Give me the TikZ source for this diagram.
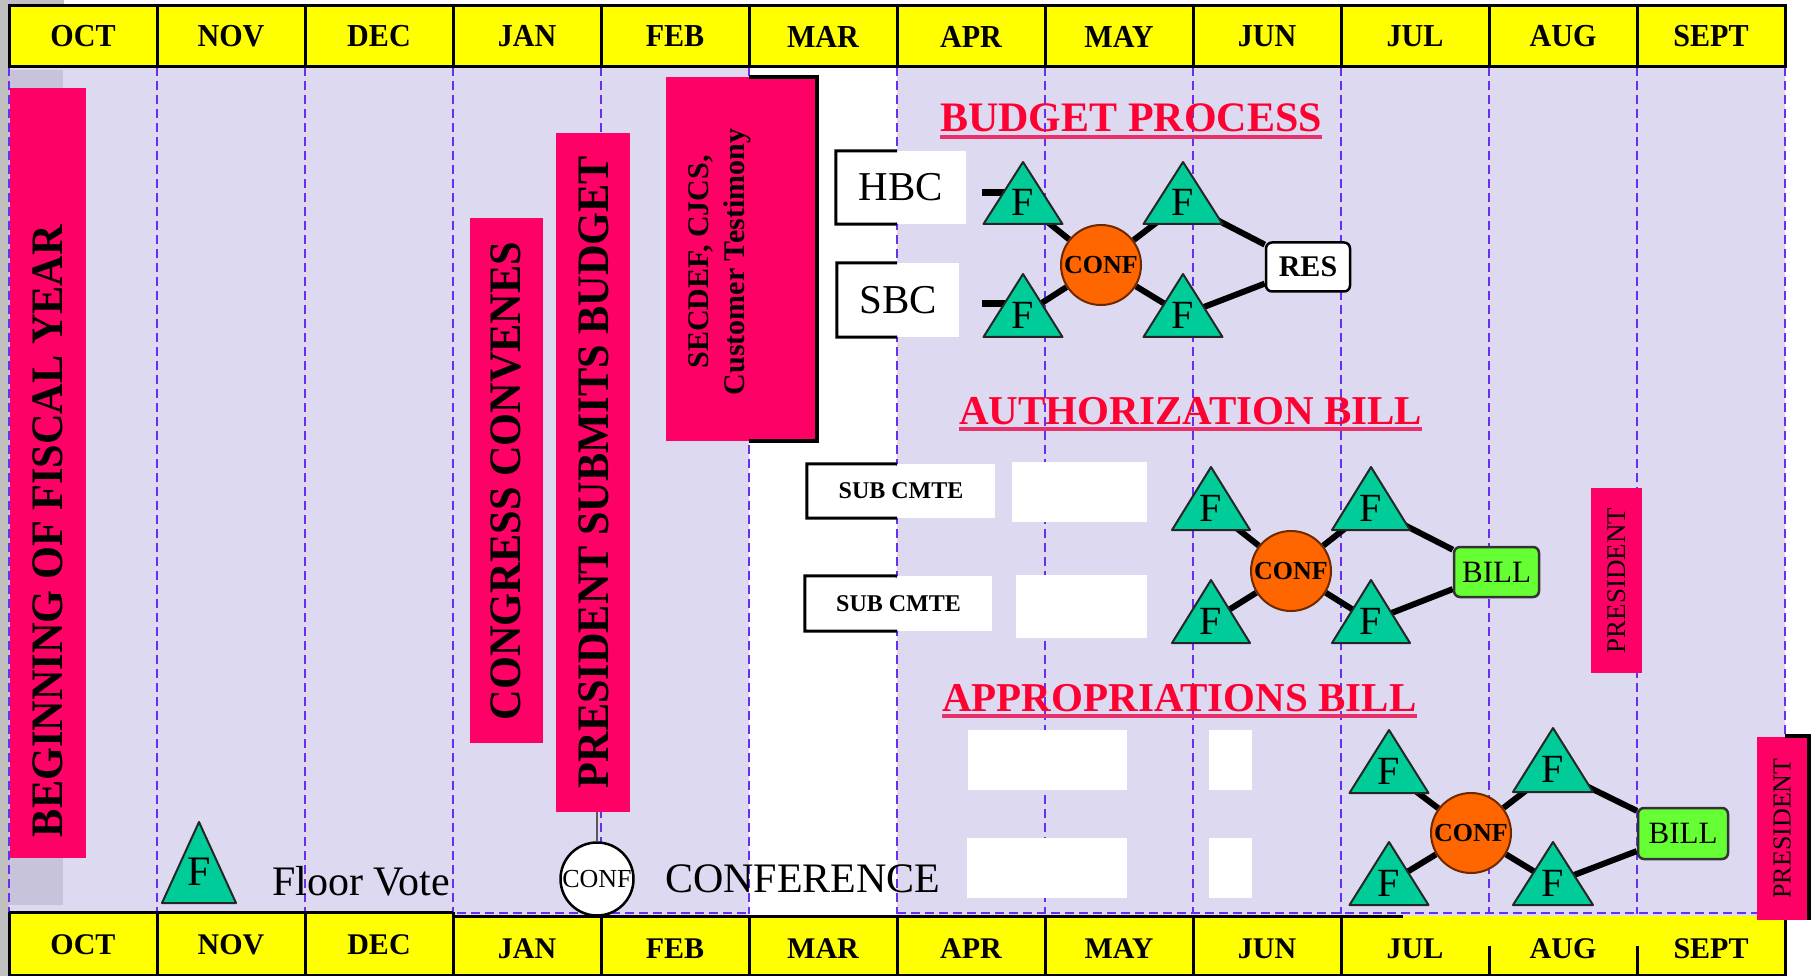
\documentclass[tikz,border=0pt]{standalone}
\usepackage{fontspec}
\usepackage{graphicx}
\setmainfont{Liberation Serif}
\newfontfamily\condf[FakeStretch=0.94]{Liberation Serif}
\usetikzlibrary{calc}
\pgfdeclarelayer{bottom}
\pgfdeclarelayer{back}
\pgfsetlayers{bottom,back,main}
\definecolor{greyc}{HTML}{C0C0C0}
\definecolor{greyb}{HTML}{C6C3DA}
\definecolor{lav}{HTML}{DDD9F1}
\definecolor{vline}{HTML}{6A2EF0}
\definecolor{pinkc}{HTML}{FF0066}
\definecolor{tealc}{HTML}{00CC99}
\definecolor{orangec}{HTML}{FF6600}
\definecolor{greenc}{HTML}{66FF33}
\definecolor{titlec}{HTML}{FF0033}
\definecolor{ulc}{HTML}{E8306A}
\definecolor{yel}{HTML}{FFFF00}
\definecolor{confbd}{HTML}{6E2800}
\newcommand\fsz[1]{\fontsize{#1}{#1}\selectfont}
\newcommand\ftri[5]{%
  \draw[tri] ({#2-#4},{#3+#5}) -- (#2,#3) -- ({#2+#4},{#3+#5}) -- cycle;
  \node[flab] (#1) at (#2,{#3+2*#5/3-1}) {F};}
\begin{document}
\begin{tikzpicture}[x=1pt,y=-1pt,
  hcell/.style={draw=black,line width=3pt,fill=yel,minimum width=148pt,minimum height=61pt,inner sep=0pt,font=\condf\bfseries\fsz{32}},
  ftext/.style={inner sep=0pt,font=\bfseries\fsz{30}},
  vdash/.style={draw=vline,line width=1.8pt,dash pattern=on 9pt off 5pt},
  pinkbox/.style={fill=pinkc,inner sep=0pt},
  bigtxt/.style={inner sep=0pt,font=\condf\bfseries\fsz{45}},
  tri/.style={fill=tealc,draw=black!85,line width=2pt,line join=round},
  flab/.style={inner sep=0pt,font=\fsz{40}},
  conn/.style={draw=black,line width=6pt},
  confc/.style={circle,fill=orangec,draw=confbd,line width=2pt,minimum size=80pt,inner sep=0pt,font=\bfseries\fsz{26}},
  resbox/.style={rectangle,rounded corners=6pt,fill=white,draw=black,line width=2.5pt,minimum width=84pt,minimum height=49pt,inner sep=0pt,font=\bfseries\fsz{30}},
  billbox/.style={rectangle,rounded corners=6pt,fill=greenc,draw=black!80,line width=2.5pt,minimum height=50pt,inner sep=0pt,font=\fsz{31}},
  wbox/.style={fill=white,inner sep=0pt},
  bord/.style={draw=black,line width=3pt},
  title/.style={inner sep=0pt,text=titlec,font=\bfseries\fsz{41}},
  ul/.style={draw=ulc,line width=3.5pt},
  ]
\useasboundingbox (0,0) rectangle (1818,976);
\begin{pgfonlayer}{bottom}
\fill[white] (0,0) rectangle (1818,976);
\fill[greyc] (0,0) rectangle (9,976);
\fill[greyc] (0,0) rectangle (64,6);
\fill[lav] (9,67) rectangle (749,916);
\fill[lav] (897,67) rectangle (1785,916);
\fill[greyb] (9,70) rectangle (63,905);
\foreach \x in {9,157,...,1785} \draw[vdash] (\x,67) -- (\x,914);
\draw[vdash] (9,913) -- (749,913);
\draw[vdash] (897,913) -- (1785,913);
\end{pgfonlayer}

% header
\foreach \m [count=\i] in {OCT,NOV,DEC,JAN,FEB,MAR,APR,MAY,JUN,JUL,AUG,SEPT}
  \node[hcell] (h\i) at ({9+148*(\i-0.5)},36.5) {\m};

% footer
\fill[yel] (9,912) rectangle (453,976);
\fill[yel] (453,916) rectangle (1785,976);
\foreach \m [count=\i] in {OCT,NOV,DEC,JAN,FEB,MAR,APR,MAY,JUN,JUL,AUG,SEPT}
  \node[ftext] (f\i) at ({9+148*(\i-0.5)},{\i<4 ? 945 : 949}) {\m};
\draw[bord] (9,912) -- (453,912);
\draw[bord] (453,916) -- (1403,916);
\foreach \x in {9,157,305,453} \draw[bord] (\x,912) -- (\x,976);
\foreach \x in {601,749,897,1045,1193,1341,1785} \draw[bord] (\x,916) -- (\x,976);
\foreach \x in {1489,1637} \draw[bord] (\x,946) -- (\x,976);
\draw[bord] (9,975) -- (1785,975);

% pink vertical boxes
\node[pinkbox,minimum width=76pt,minimum height=770pt] (bfy) at (48,473) {};
\node[bigtxt] (bfyt) at (48,531) {\rotatebox{90}{BEGINNING OF FISCAL YEAR}};
\node[pinkbox,minimum width=73pt,minimum height=525pt] (ccv) at (506.5,480.5) {};
\node[bigtxt] (ccvt) at (506,481) {\rotatebox{90}{CONGRESS CONVENES}};
\node[pinkbox,minimum width=74pt,minimum height=679pt] (psb) at (593,472.5) {};
\node[bigtxt] (psbt) at (594,472) {\rotatebox{90}{PRESIDENT SUBMITS BUDGET}};
\node[pinkbox,minimum width=151pt,minimum height=364pt] (sec) at (741.5,259) {};
\draw[bord,line width=3.5pt] (749,77) -- (817,77) -- (817,441) -- (749,441);
\node[inner sep=0pt,font=\bfseries\fontsize{30}{36}\selectfont,align=center,rotate=90] (sect) at (720,262) {SECDEF, CJCS,\\Customer Testimony};

% label boxes
\node[wbox,minimum width=130pt,minimum height=73pt,font=\fsz{41}] (hbc) at (901,187.5) {HBC};
\draw[bord] (897,151) -- (hbc.north west) -- (hbc.south west) -- (897,224);
\node[wbox,minimum width=122pt,minimum height=74pt,font=\fsz{41}] (sbc) at (898,300) {SBC};
\draw[bord] (897,263) -- (sbc.north west) -- (sbc.south west) -- (897,337);
\node[wbox,minimum width=188pt,minimum height=54pt,font=\bfseries\fsz{24}] (sc1) at (901,491) {SUB CMTE};
\draw[bord] (897,464) -- (sc1.north west) -- (sc1.south west) -- (897,518);
\node[wbox,minimum width=187pt,minimum height=55pt,font=\bfseries\fsz{24}] (sc2) at (898.5,603.5) {SUB CMTE};
\draw[bord] (897,576) -- (sc2.north west) -- (sc2.south west) -- (897,631);
\fill[white] (1012,462) rectangle (1147,522);
\fill[white] (1016,575) rectangle (1147,638);
\fill[white] (968,730) rectangle (1127,790);
\fill[white] (1209,730) rectangle (1252,790);
\fill[white] (967,838) rectangle (1127,898);
\fill[white] (1209,838) rectangle (1252,898);

% titles
\node[title,anchor=base west,font=\bfseries\fsz{42}] (ttl1) at (940,132) {BUDGET PROCESS};
\draw[ul] ([yshift=-5pt]ttl1.base west) -- ([yshift=-5pt]ttl1.base east);
\node[title,anchor=base west] (ttl2) at (959,424) {AUTHORIZATION BILL};
\draw[ul] ([yshift=-5pt]ttl2.base west) -- ([yshift=-5pt]ttl2.base east);
\node[title,anchor=base west] (ttl3) at (942,711) {APPROPRIATIONS BILL};
\draw[ul] ([yshift=-5pt]ttl3.base west) -- ([yshift=-5pt]ttl3.base east);

% budget process
\ftri{t1}{1023}{162}{39.5}{62}
\ftri{t2}{1183}{162}{39.5}{62}
\ftri{t3}{1023}{274}{39.5}{63}
\ftri{t4}{1183}{274}{39.5}{63}
\node[confc] (c1) at (1101,265) {CONF};
\node[resbox] (res) at (1308,267) {RES};
\coordinate (s1) at (982,193);
\coordinate (s2) at (982,304);

% authorization
\ftri{a1}{1211}{467}{39}{63}
\ftri{a2}{1371}{467}{39}{63}
\ftri{a3}{1211}{580}{39}{63}
\ftri{a4}{1371}{580}{39}{63}
\node[confc] (c2) at (1291,571) {CONF};
\node[billbox,minimum width=85pt] (b1) at (1496.5,572) {BILL};
\node[pinkbox,minimum width=51pt,minimum height=185pt,font=\fsz{27}] (pr1) at (1616.5,580.5) {\rotatebox{90}{PRESIDENT}};

% appropriations
\ftri{p1}{1389}{730}{39.5}{63}
\ftri{p2}{1553}{728}{40}{64}
\ftri{p3}{1389}{842}{39.5}{63}
\ftri{p4}{1553}{842}{40}{63}
\node[confc] (c3) at (1471,833) {CONF};
\node[billbox,minimum width=90pt,minimum height=51pt] (b2) at (1683,833.5) {BILL};
\node[pinkbox,minimum width=50pt,minimum height=183pt,font=\fsz{26}] (pr2) at (1782,828.5) {\rotatebox{90}{PRESIDENT}};
\draw[bord,line width=4pt] (1785,736) -- (1809,736) -- (1809,920);

% connectors
\begin{pgfonlayer}{back}
\draw[conn] (t1) -- (c1);
\draw[conn] (t2) -- (c1);
\draw[conn] (t3) -- (c1);
\draw[conn] (t4) -- (c1);
\draw[conn] (t2) -- (res);
\draw[conn] (t4) -- (res);
\draw[conn,line width=7pt] (s1) -- (s1 -| t1);
\draw[conn,line width=7pt] (s2) -- (s2 -| t3);
\draw[conn] (a1) -- (c2);
\draw[conn] (a2) -- (c2);
\draw[conn] (a3) -- (c2);
\draw[conn] (a4) -- (c2);
\draw[conn] (a2) -- (b1);
\draw[conn] (a4) -- (b1);
\draw[conn] (p1) -- (c3);
\draw[conn] (p2) -- (c3);
\draw[conn] (p3) -- (c3);
\draw[conn] (p4) -- (c3);
\draw[conn] (p2) -- (b2);
\draw[conn] (p4) -- (b2);
\end{pgfonlayer}

% legend
\draw[tri] (162,903) -- (199,822) -- (236,903) -- cycle;
\node[inner sep=0pt,font=\fsz{42}] (lf) at (199,872) {F};
\node[inner sep=0pt,anchor=base west,font=\fsz{42}] (fv) at (272,895) {Floor Vote};
\node[circle,fill=white,draw=black,line width=2.5pt,minimum size=73pt,inner sep=0pt,font=\fsz{26}] (lconf) at (597,879) {CONF};
\draw[draw=black!65,line width=1.5pt] (lconf.north) -- (lconf.north |- psb.south);
\node[inner sep=0pt,anchor=base west,font=\fsz{42}] (confl) at (665,892) {CONFERENCE};
\end{tikzpicture}
\end{document}
